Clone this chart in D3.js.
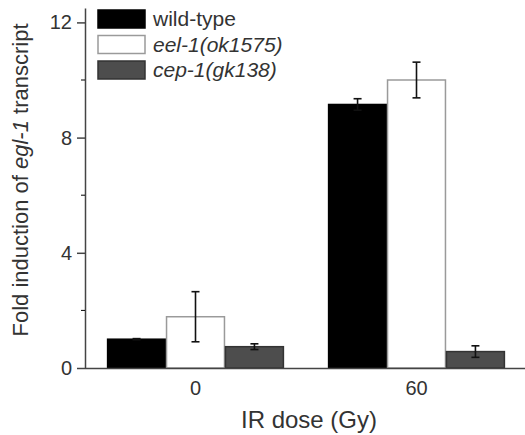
<!DOCTYPE html>
<html>
<head>
<meta charset="utf-8">
<script src="https://cdn.jsdelivr.net/npm/d3@7"></script>
<style>
  body { margin: 0; background: #fff; }
  svg text { font-family: "Liberation Sans", Arial, sans-serif; fill: #333; }
</style>
</head>
<body>
<div id="chart"></div>
<script>
// data
var doses = ["0", "60"];
var strains = ["wild-type", "eel-1(ok1575)", "cep-1(gk138)"];
var italicStrain = [false, true, true];
var meanWT = [1.0, 9.15];
var meanEel = [1.78, 10.0];
var meanCep = [0.74, 0.57];
var errWT = [0.02, 0.2];
var errEel = [0.87, 0.62];
var errCep = [0.1, 0.2];
var yTicks = [0, 4, 8, 12];
var yMinor = [2, 6, 10];

var fills = ["#000", "#fff", "#4d4d4d"];
var strokes = ["#000", "#9a9a9a", "#333"];

var width = 525, height = 435;
var margin = { top: 8, left: 85, bottom: 67, right: 0 };

var svg = d3.select("#chart").append("svg")
    .attr("width", width)
    .attr("height", height);

var y = d3.scaleLinear()
    .domain([0, 12.5])
    .range([height - margin.bottom, margin.top]);

var x0 = d3.scaleBand()
    .domain(doses)
    .range([margin.left, 527])
    .paddingInner(0.2)
    .paddingOuter(0.1);

var x1 = d3.scaleBand()
    .domain(strains)
    .range([0, x0.bandwidth()]);

// flatten into rows for drawing
var rows = [];
doses.forEach(function(d, i) {
    rows.push({ dose: d, strain: strains[0], k: 0, v: meanWT[i], e: errWT[i] });
    rows.push({ dose: d, strain: strains[1], k: 1, v: meanEel[i], e: errEel[i] });
    rows.push({ dose: d, strain: strains[2], k: 2, v: meanCep[i], e: errCep[i] });
});

// bars
svg.append("g").selectAll("rect")
    .data(rows)
    .enter().append("rect")
    .attr("x", function(d) { return x0(d.dose) + x1(d.strain) + 0.5; })
    .attr("y", function(d) { return y(d.v); })
    .attr("width", x1.bandwidth() - 1)
    .attr("height", function(d) { return y(0) - y(d.v); })
    .style("fill", function(d) { return fills[d.k]; })
    .style("stroke", function(d) { return strokes[d.k]; })
    .style("stroke-width", 1.5);

// error bars
var eb = svg.append("g").selectAll("g")
    .data(rows)
    .enter().append("g")
    .attr("transform", function(d) {
        return "translate(" + (x0(d.dose) + x1(d.strain) + x1.bandwidth() / 2) + ",0)";
    })
    .style("stroke", "#111")
    .style("stroke-width", 1.6);

eb.append("line")
    .attr("y1", function(d) { return y(d.v - d.e); })
    .attr("y2", function(d) { return y(d.v + d.e); });
eb.append("line")
    .attr("x1", -4).attr("x2", 4)
    .attr("y1", function(d) { return y(d.v + d.e); })
    .attr("y2", function(d) { return y(d.v + d.e); });
eb.append("line")
    .attr("x1", -4).attr("x2", 4)
    .attr("y1", function(d) { return y(d.v - d.e); })
    .attr("y2", function(d) { return y(d.v - d.e); });

// y axis
var yAxis = svg.append("g")
    .attr("transform", "translate(" + margin.left + ",0)")
    .call(d3.axisLeft(y).tickValues(yTicks).tickSize(8).tickPadding(5).tickSizeOuter(0));
yAxis.selectAll("text").style("font-size", "20px");
yAxis.append("g").selectAll("line")
    .data(yMinor)
    .enter().append("line")
    .attr("x1", -4).attr("x2", 0)
    .attr("y1", function(d) { return y(d); })
    .attr("y2", function(d) { return y(d); })
    .attr("stroke", "currentColor");

// x axis
var xAxis = svg.append("g")
    .attr("transform", "translate(0," + y(0) + ")")
    .call(d3.axisBottom(x0).tickSize(0).tickPadding(13));
xAxis.select(".domain").attr("d", "M" + margin.left + ",0.5H525");
xAxis.selectAll("text").style("font-size", "20px");

svg.selectAll(".domain, .tick line").style("stroke", "#444").style("stroke-width", 1.5);

// axis titles
var yt = svg.append("text")
    .attr("transform", "translate(28,180) rotate(-90)")
    .attr("text-anchor", "middle")
    .style("font-size", "22px");
yt.append("tspan").text("Fold induction of ");
yt.append("tspan").style("font-style", "italic").text("egl-1");
yt.append("tspan").text(" transcript");

svg.append("text")
    .attr("x", 309)
    .attr("y", 428)
    .attr("text-anchor", "middle")
    .style("font-size", "24px")
    .text("IR dose (Gy)");

// legend
var leg = svg.append("g").selectAll("g")
    .data(strains)
    .enter().append("g")
    .attr("transform", function(d, i) { return "translate(98," + (10 + i * 25.5) + ")"; });
leg.append("rect")
    .attr("width", 47).attr("height", 18)
    .style("fill", function(d, i) { return fills[i]; })
    .style("stroke", function(d, i) { return strokes[i]; })
    .style("stroke-width", 1.5);
leg.append("text")
    .attr("x", 55).attr("y", 16)
    .style("font-size", "21px")
    .style("font-style", function(d, i) { return italicStrain[i] ? "italic" : "normal"; })
    .text(function(d) { return d; });
</script>
</body>
</html>
